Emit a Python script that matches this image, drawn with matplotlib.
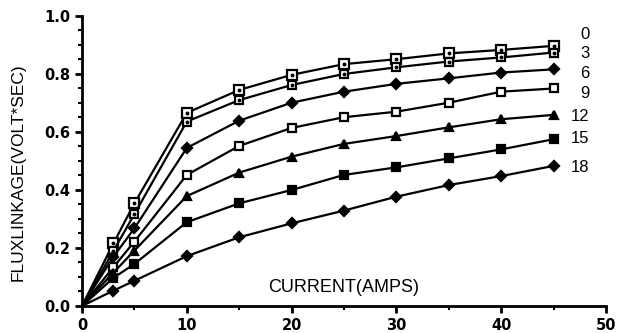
import matplotlib
matplotlib.use("Agg")
import matplotlib.pyplot as plt
from matplotlib.ticker import MultipleLocator, FormatStrFormatter
import matplotlib.font_manager as fm

current = [0, 3, 5, 10, 15, 20, 25, 30, 35, 40, 45]
series_labels = ["0", "3", "6", "9", "12", "15", "18"]
flux_0 = [0.0, 0.216, 0.354, 0.666, 0.745, 0.797, 0.834, 0.851, 0.871, 0.883, 0.897]
flux_3 = [0.0, 0.190, 0.317, 0.636, 0.710, 0.762, 0.800, 0.823, 0.843, 0.857, 0.874]
flux_6 = [0.0, 0.170, 0.268, 0.545, 0.639, 0.701, 0.739, 0.766, 0.785, 0.805, 0.816]
flux_9 = [0.0, 0.134, 0.222, 0.452, 0.552, 0.614, 0.651, 0.670, 0.701, 0.739, 0.750]
flux_12 = [0.0, 0.115, 0.191, 0.379, 0.460, 0.515, 0.559, 0.586, 0.616, 0.644, 0.659]
flux_15 = [0.0, 0.097, 0.145, 0.289, 0.354, 0.400, 0.452, 0.478, 0.509, 0.540, 0.575]
flux_18 = [0.0, 0.053, 0.087, 0.172, 0.237, 0.285, 0.329, 0.377, 0.417, 0.448, 0.483]
all_series = [flux_0, flux_3, flux_6, flux_9, flux_12, flux_15, flux_18]

# style per series: marker, facecolor, size, inner dot
styles = [("s", "white", 6.5, True), ("s", "white", 5.5, True), ("D", "black", 5, False),
          ("s", "white", 6, False), ("^", "black", 6, False), ("s", "black", 6, False),
          ("D", "black", 5, False)]
label_offsets = [0.04, -0.002, -0.013, -0.016, -0.004, 0.004, -0.007]

names = {f.name for f in fm.fontManager.ttflist}
tick_font = "Liberation Sans" if "Liberation Sans" in names else "DejaVu Sans"
narrow = "Liberation Sans Narrow" if "Liberation Sans Narrow" in names else tick_font

fig = plt.figure(figsize=(6.17, 3.33), dpi=100)
ax = fig.add_axes([0.1329, 0.0811, 0.8493, 0.8709])

for ys, (m, fc, ms, dot) in zip(all_series, styles):
    ax.plot(current, ys, color="black", lw=1.6, marker=m, markersize=ms,
            markerfacecolor=fc, markeredgecolor="black", markeredgewidth=1.6,
            markevery=slice(1, None), zorder=3, clip_on=False)
    if dot:
        ax.plot(current[1:], ys[1:], ls="none", marker="o", markersize=1.8,
                color="black", zorder=4)

for lab, ys, off in zip(series_labels, all_series, label_offsets):
    ax.text(48.4, ys[-1] + off, lab, fontsize=12, family=tick_font,
            va="center", ha="right")

ax.set_xlim(0, 50)
ax.set_ylim(0, 1.0)
ax.xaxis.set_major_locator(MultipleLocator(10))
ax.xaxis.set_minor_locator(MultipleLocator(5))
ax.yaxis.set_major_locator(MultipleLocator(0.2))
ax.yaxis.set_minor_locator(MultipleLocator(0.05))
ax.yaxis.set_major_formatter(FormatStrFormatter("%.1f"))
for s in ["top", "right"]:
    ax.spines[s].set_visible(False)
for s in ["left", "bottom"]:
    ax.spines[s].set_linewidth(2)
ax.tick_params(which="major", direction="out", length=5, width=2)
ax.tick_params(which="minor", direction="out", length=3, width=1.5)
ax.tick_params(axis="x", pad=4)

for lbl in ax.get_xticklabels() + ax.get_yticklabels():
    lbl.set_fontweight("bold")
    lbl.set_fontsize(10.5)
    lbl.set_family("DejaVu Sans")

ax.set_ylabel("FLUXLINKAGE(VOLT*SEC)", fontsize=12.5, family=narrow)
ax.yaxis.set_label_coords(-0.107, 0.46)
ax.text(25.0, 0.063, "CURRENT(AMPS)", fontsize=13, family=narrow,
        ha="center", va="center")

fig.savefig("out.png", dpi=100)
